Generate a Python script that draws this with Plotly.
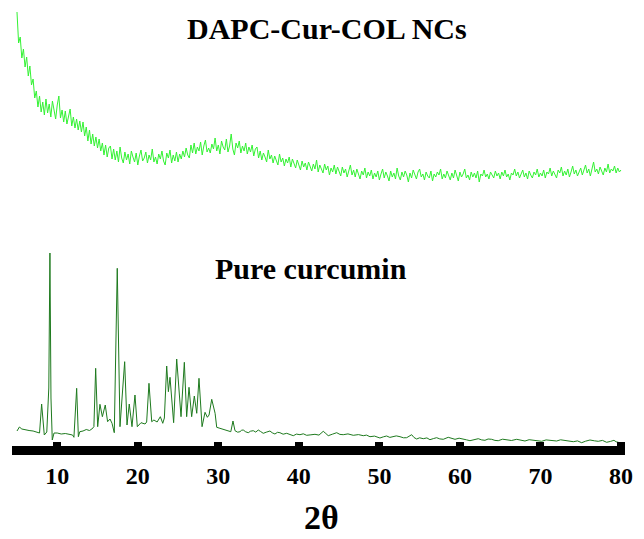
import numpy as np
import plotly.graph_objects as go

# ---------------- data ----------------
TICK_VALUES = [10, 20, 30, 40, 50, 60, 70, 80]
TICK_LABELS = ["10", "20", "30", "40", "50", "60", "70", "80"]

# DAPC-Cur-COL NCs : scan 5-80 deg, 0.2 deg step, intensity (a.u., stacked offset)
DAPC_START = 5.0
DAPC_STEP = 0.2
DAPC_INTENSITY = [
    436, 405, 411, 390, 399, 381, 391, 372, 382, 363,
    369, 350, 357, 341, 352, 336, 346, 333, 349, 335,
    344, 331, 347, 337, 329, 343, 352, 330, 338, 326,
    337, 324, 333, 339, 322, 331, 320, 329, 318, 327,
    316, 326, 312, 321, 307, 318, 304, 314, 302, 311,
    300, 309, 297, 305, 293, 303, 291, 300, 302, 289,
    299, 288, 297, 286, 301, 290, 285, 296, 288, 294,
    284, 297, 291, 286, 295, 283, 292, 298, 287, 290,
    296, 285, 293, 288, 299, 286, 291, 284, 294, 289,
    297, 287, 283, 295, 290, 298, 285, 293, 287, 296,
    286, 294, 289, 297, 291, 300, 293, 290, 303, 295,
    305, 294, 301, 297, 306, 293, 302, 308, 296, 300,
    295, 304, 299, 310, 297, 303, 294, 307, 301, 298,
    309, 296, 302, 314, 299, 293, 305, 300, 307, 295,
    302, 297, 305, 294, 301, 296, 303, 292, 299, 301,
    290, 297, 288, 295, 291, 286, 298, 289, 293, 285,
    292, 287, 283, 294, 286, 290, 282, 289, 285, 291,
    281, 289, 284, 280, 288, 283, 278, 287, 281, 285,
    278, 286, 281, 277, 284, 279, 288, 276, 283, 279,
    275, 284, 278, 282, 273, 280, 276, 283, 274, 281,
    276, 272, 281, 275, 279, 271, 277, 283, 273, 278,
    271, 279, 274, 269, 277, 273, 280, 270, 276, 272,
    278, 269, 275, 271, 277, 268, 274, 279, 270, 276,
    272, 267, 277, 271, 275, 269, 280, 272, 268, 276,
    271, 277, 273, 266, 275, 270, 278, 273, 269, 276,
    279, 271, 274, 268, 276, 272, 270, 277, 267, 274,
    271, 276, 273, 279, 269, 274, 270, 277, 272, 268,
    275, 270, 278, 273, 267, 276, 271, 274, 279, 270,
    273, 268, 276, 271, 275, 270, 277, 266, 274, 272,
    278, 271, 274, 269, 276, 273, 270, 277, 272, 275,
    269, 276, 272, 278, 271, 274, 268, 275, 273, 279,
    272, 276, 270, 274, 278, 271, 275, 269, 277, 273,
    270, 276, 273, 279, 271, 275, 272, 278, 270, 276,
    274, 280, 272, 277, 273, 270, 278, 275, 281, 272,
    277, 273, 279, 271, 276, 282, 274, 278, 272, 276,
    280, 273, 277, 283, 275, 279, 272, 278, 286, 276,
    279, 274, 281, 277, 273, 280, 276, 284, 275, 279,
    277, 282, 275, 280, 276, 278,
]

# Pure curcumin : 2theta positions and intensities (a.u.)
CUR_2THETA = [
    5.0, 5.3, 5.6, 6.0, 6.5, 7.0, 7.5, 7.8, 8.06, 8.39,
    8.7, 8.95, 9.09, 9.22, 9.38, 9.6, 10.0, 10.5, 11.0, 11.5,
    11.9, 12.07, 12.41, 12.62, 12.8, 13.2, 13.6, 14.0, 14.3, 14.55,
    14.77, 15.02, 15.3, 15.6, 15.96, 16.25, 16.55, 16.8, 17.08, 17.45,
    17.79, 18.37, 18.66, 18.94, 19.28, 19.65, 19.94, 20.4, 20.9, 21.1,
    21.39, 21.73, 22.0, 22.4, 22.8, 23.1, 23.3, 23.59, 23.8, 24.0,
    24.45, 24.83, 25.37, 25.78, 26.07, 26.36, 26.69, 27.02, 27.32, 27.6,
    27.98, 28.35, 28.64, 28.85, 29.18, 29.6, 29.8, 30.2, 30.7, 31.2,
    31.55, 31.82, 32.07, 32.4, 32.69, 32.9, 33.1, 33.4, 33.72, 34.0,
    34.34, 34.65, 34.96, 35.25, 35.58, 35.95, 36.41, 36.7, 37.03, 37.35,
    37.65, 38.05, 38.49, 38.9, 39.31, 39.7, 40.14, 40.55, 40.97, 41.5,
    42.0, 42.5, 43.03, 43.35, 43.65, 44.2, 44.7, 45.1, 45.51, 46.1,
    46.76, 47.4, 48.0, 48.4, 48.83, 49.4, 50.07, 50.5, 50.9, 51.3,
    51.72, 52.1, 52.56, 53.0, 53.39, 53.7, 54.01, 54.3, 54.63, 55.0,
    55.45, 55.9, 56.28, 56.7, 57.11, 57.5, 57.93, 58.55, 59.0, 59.39,
    59.9, 60.42, 60.8, 61.25, 61.8, 62.28, 62.7, 63.11, 63.5, 63.94,
    64.35, 64.76, 65.3, 65.81, 66.4, 67.05, 67.6, 68.08, 68.6, 69.11,
    69.6, 70.15, 70.7, 71.18, 71.6, 72.01, 72.5, 73.05, 73.6, 74.08,
    74.6, 75.12, 75.6, 76.15, 76.7, 77.18, 77.7, 78.22, 78.7, 79.13,
    79.4, 79.7,
]
CUR_INTENSITY = [
    17, 21, 19, 18, 17.5, 17, 16, 15, 44, 13,
    16, 60, 195, 50, 8, 15, 15, 14, 14.5, 13.5,
    13, 10.7, 59.7, 11.3, 16.3, 17, 18.5, 17.5, 19, 21.3,
    79.7, 21.3, 43.7, 31.3, 43, 26.3, 29, 24.7, 15.3, 179.7,
    21.3, 86.3, 23, 44, 21.3, 53, 21.3, 25.3, 24, 26,
    64.7, 26.3, 28, 26, 31.3, 24.7, 30, 82, 56.3, 70.7,
    25.3, 89, 31.3, 85.7, 31.3, 60.7, 31.3, 52, 34.7, 69.7,
    21.3, 35.7, 30.7, 33, 48.7, 34.7, 20.7, 19.7, 18.5, 17.3,
    16.3, 27, 17.3, 15.8, 16.3, 17.8, 18, 16.2, 15.3, 16.8,
    17.3, 15.9, 18, 16.5, 14.7, 15.8, 17, 15.2, 14, 15.7,
    15.3, 13.8, 14.7, 13.5, 12.3, 13.9, 13.3, 14.2, 12.7, 13.2,
    13.7, 12.9, 16.7, 14.5, 12.3, 13.9, 15.3, 13.6, 13.3, 14.1,
    12.7, 13.4, 12.3, 12.9, 11.3, 11.9, 10, 11.2, 12, 10.6,
    11, 12.1, 11.3, 10.2, 10.3, 11.5, 13.3, 10.5, 9, 10.2,
    9.3, 10.1, 8.3, 9.4, 10.3, 9.1, 8.7, 10.7, 9.4, 8.7,
    9.8, 9.3, 8.2, 7.3, 8.6, 9.3, 8.1, 7.7, 9.0, 8.7,
    7.6, 7.3, 8.8, 8.3, 7.5, 8.7, 7.9, 7, 8.3, 8,
    7.2, 6.7, 8.1, 7.7, 6.6, 7, 8.2, 7.7, 6.9, 6.3,
    7.1, 5.3, 6.8, 8, 7.2, 6.7, 7.6, 5.7, 6.6, 7.7,
    6.2, 5.7,
]

SERIES_NAMES = ["DAPC-Cur-COL NCs", "Pure curcumin"]
X_TITLE = "2θ"

# ---------------- figure ----------------
dapc_x = DAPC_START + DAPC_STEP * np.arange(len(DAPC_INTENSITY))

fig = go.Figure()
fig.add_trace(go.Scatter(
    x=dapc_x, y=DAPC_INTENSITY, mode="lines", name=SERIES_NAMES[0],
    line=dict(color="#33F233", width=1),
))
fig.add_trace(go.Scatter(
    x=CUR_2THETA, y=CUR_INTENSITY, mode="lines", name=SERIES_NAMES[1],
    line=dict(color="#1E7A1E", width=1),
))

serif = "Liberation Serif"
fig.update_layout(
    width=644, height=539,
    margin=dict(l=12, r=19, t=0, b=93),
    paper_bgcolor="white", plot_bgcolor="white",
    showlegend=False,
    xaxis=dict(
        range=[4.38, 80.5],
        tickvals=TICK_VALUES, ticktext=TICK_LABELS,
        showline=True, linewidth=9, linecolor="black",
        ticks="inside", ticklen=4, tickwidth=8, tickcolor="black",
        showgrid=False, zeroline=False,
        tickfont=dict(family=serif, size=24, color="black", weight="bold"),
    ),
    yaxis=dict(range=[2, 448], visible=False, showgrid=False, zeroline=False),
    annotations=[
        dict(text=SERIES_NAMES[0], xref="paper", yref="paper", x=0.514, y=0.937,
             xanchor="center", yanchor="middle", showarrow=False,
             font=dict(family=serif, size=30, color="black", weight="bold")),
        dict(text=SERIES_NAMES[1], xref="paper", yref="paper", x=0.487, y=0.399,
             xanchor="center", yanchor="middle", showarrow=False,
             font=dict(family=serif, size=30, color="black", weight="bold")),
        dict(text=X_TITLE, xref="paper", yref="paper", x=0.5057, y=-0.1614,
             xanchor="center", yanchor="middle", showarrow=False,
             font=dict(family=serif, size=34, color="black", weight="bold")),
    ],
)

fig.write_html("out.html")
